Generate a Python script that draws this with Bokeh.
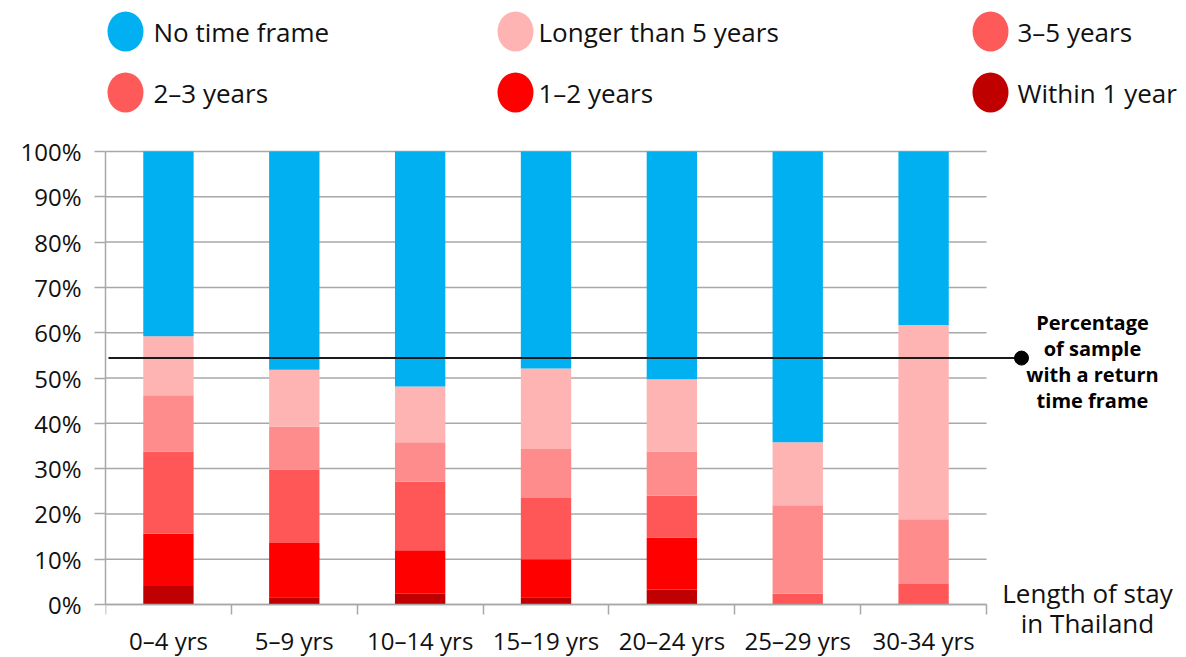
from bokeh.plotting import figure
from bokeh.models import Range1d, FixedTicker, ColumnDataSource
from bokeh.embed import file_html
from bokeh.resources import INLINE
from bokeh.core.properties import value

# ---------------- data ----------------
categories = ["0–4 yrs", "5–9 yrs", "10–14 yrs", "15–19 yrs", "20–24 yrs", "25–29 yrs", "30-34 yrs"]
within_1_year = [4.1, 1.6, 2.4, 1.6, 3.3, 0.0, 0.0]
years_1_2 = [11.5, 12.0, 9.6, 8.4, 11.5, 0.0, 0.0]
years_2_3 = [18.2, 16.2, 15.1, 13.5, 9.2, 2.4, 4.5]
years_3_5 = [12.4, 9.5, 8.7, 10.8, 9.8, 19.5, 14.3]
longer_than_5 = [13.0, 12.5, 12.3, 17.8, 15.9, 13.9, 42.9]
no_time_frame = [40.8, 48.2, 51.9, 47.9, 50.3, 64.2, 38.3]
return_share = 54.4  # percentage of sample with a return time frame
y_ticks = [0, 10, 20, 30, 40, 50, 60, 70, 80, 90, 100]
y_tick_labels = ["0%", "10%", "20%", "30%", "40%", "50%", "60%", "70%", "80%", "90%", "100%"]

series_names = ["Within 1 year", "1–2 years", "2–3 years", "3–5 years", "Longer than 5 years", "No time frame"]
series_values = [within_1_year, years_1_2, years_2_3, years_3_5, longer_than_5, no_time_frame]
series_colors = ["#C00000", "#FF0000", "#FF5757", "#FF8C8C", "#FFB4B4", "#00B0F0"]

legend_labels = ["No time frame", "Longer than 5 years", "3–5 years",
                 "2–3 years", "1–2 years", "Within 1 year"]
legend_colors = ["#00B0F0", "#FFB4B4", "#FF5A5A", "#FF5A5A", "#FF0000", "#C00000"]

annotation_lines = ["Percentage", "of sample", "with a return", "time frame"]
axis_title_lines = ["Length of stay", "in Thailand"]

FONT = "Open Sans"
TXT = "#111111"
GRID = "#A8A8A8"

# ---------------- layout geometry (page pixels) ----------------
W, H = 1186, 657            # canvas
LEFT = 105                  # y-axis panel width
X0_PX, X_PER = 105, 125.86  # page x of x=0 and px per category
Y0_PX, Y_PER = 604, 4.53    # page y of 0 % and px per percent


def px_x(px):
    return (px - X0_PX) / X_PER


def px_y(py):
    return (Y0_PX - py) / Y_PER


x_end = px_x(W)
y_start, y_end = px_y(H), px_y(0)

p = figure(width=W, height=H, x_range=Range1d(0, x_end), y_range=Range1d(y_start, y_end),
           toolbar_location=None, output_backend="svg",
           min_border_left=LEFT, min_border_right=0, min_border_top=0, min_border_bottom=0)
p.outline_line_color = None
p.xgrid.visible = False
p.ygrid.visible = False

n = len(categories)
x_pos = [i + 0.5 for i in range(n)]

# horizontal grid lines across the category area only
p.segment(x0=[0] * len(y_ticks), x1=[n] * len(y_ticks), y0=y_ticks, y1=y_ticks,
          line_color=GRID, line_width=1.5)

# stacked bars
data = dict(x=x_pos)
for name, vals in zip(series_names, series_values):
    data[name] = vals
src = ColumnDataSource(data)
p.vbar_stack(series_names, x="x", width=0.4, color=series_colors, line_color=None, source=src)

# y axis
p.yaxis.bounds = (0, 100)
p.yaxis.ticker = FixedTicker(ticks=y_ticks, minor_ticks=[])
p.yaxis.major_label_overrides = {t: l for t, l in zip(y_ticks, y_tick_labels)}
p.yaxis.axis_line_color = GRID
p.yaxis.axis_line_width = 1.5
p.yaxis.major_tick_line_color = GRID
p.yaxis.major_tick_line_width = 1.5
p.yaxis.major_tick_out = 11
p.yaxis.major_tick_in = 0
p.yaxis.major_label_standoff = 13
p.yaxis.major_label_text_font = FONT
p.yaxis.major_label_text_font_size = "24px"
p.yaxis.major_label_text_color = TXT

# x axis at 0 %: ticks on category boundaries, labels at centres
p.xaxis.fixed_location = 0
p.xaxis.bounds = (0, n)
p.xaxis.ticker = FixedTicker(ticks=x_pos, minor_ticks=list(range(n + 1)))
p.xaxis.major_label_overrides = {x: c for x, c in zip(x_pos, categories)}
p.xaxis.axis_line_color = GRID
p.xaxis.axis_line_width = 1.5
p.xaxis.major_tick_out = 0
p.xaxis.major_tick_in = 0
p.xaxis.minor_tick_out = 10
p.xaxis.minor_tick_in = 0
p.xaxis.minor_tick_line_color = GRID
p.xaxis.minor_tick_line_width = 1.5
p.xaxis.major_label_standoff = 9
p.xaxis.major_label_text_font = FONT
p.xaxis.major_label_text_font_size = "24px"
p.xaxis.major_label_text_color = TXT

# reference line for share of sample with a return time frame
line_x0, line_x1 = px_x(108), px_x(1021)
p.line(x=[line_x0, line_x1], y=[return_share, return_share], line_color="#1A1A1A", line_width=2)
p.scatter(x=[line_x1], y=[return_share], size=14, color="#000000")

ann_x = px_x(1092)
ann_y = [px_y(322 + 26 * k) for k in range(len(annotation_lines))]
p.text(x=[ann_x] * len(annotation_lines), y=ann_y, text=annotation_lines,
       text_align="center", text_baseline="middle", text_font=value(FONT),
       text_font_style="bold", text_font_size="20px", text_color="#000000")

ttl_x = px_x(1087)
ttl_y = [px_y(592), px_y(622)]
p.text(x=[ttl_x] * 2, y=ttl_y, text=axis_title_lines, text_align="center", text_baseline="middle",
       text_font=value(FONT), text_font_size="26px", text_color=TXT)

# legend (drawn in the top strip)
col_dot = [125, 515, 990]
col_txt = [153, 538, 1017]
row_y = [31, 92]
lx, ly, tx = [], [], []
for i in range(len(legend_labels)):
    r, c = divmod(i, 3)
    lx.append(px_x(col_dot[c])); tx.append(px_x(col_txt[c])); ly.append(px_y(row_y[r]))
lsrc = ColumnDataSource(dict(x=lx, y=ly, tx=tx, label=legend_labels, color=legend_colors))
p.ellipse(x="x", y="y", width=36, height=40, width_units="screen", height_units="screen",
          fill_color="color", line_color=None, source=lsrc)
p.text(x="tx", y="y", text="label", text_baseline="middle", text_align="left",
       text_font=value(FONT), text_font_size="26px", text_color=TXT, source=lsrc)

open("out.html", "w").write(file_html(p, INLINE))
